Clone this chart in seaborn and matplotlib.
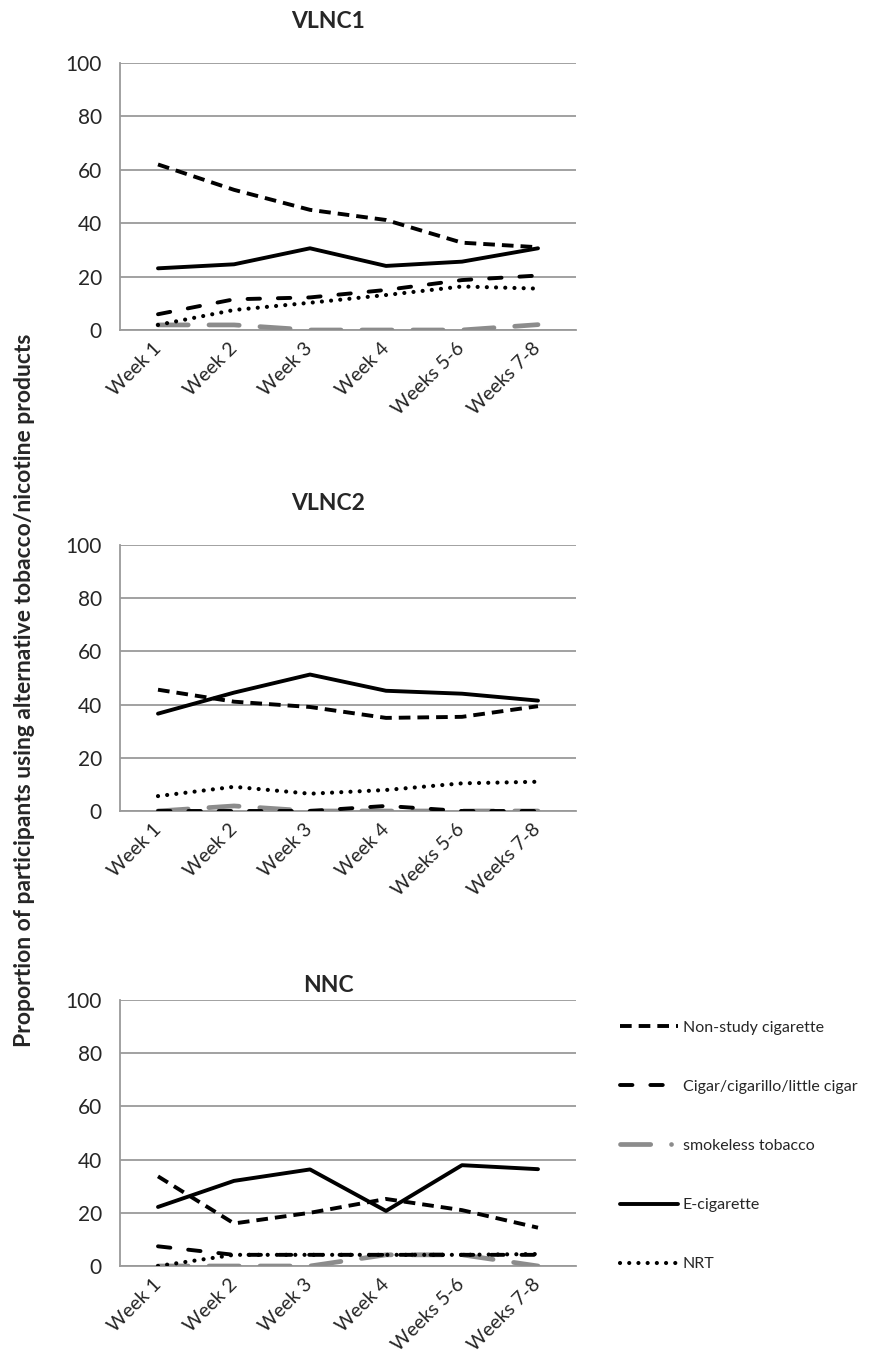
import numpy as np
import pandas as pd
import matplotlib
matplotlib.use("Agg")
import matplotlib.pyplot as plt
from matplotlib.lines import Line2D
import seaborn as sns

# Data
weeks = ["Week 1", "Week 2", "Week 3", "Week 4", "Weeks 5-6", "Weeks 7-8"]
groups = ["VLNC1", "VLNC2", "NNC"]
products = ["Non-study cigarette", "Cigar/cigarillo/little cigar",
            "smokeless tobacco", "E-cigarette", "NRT"]

vlnc1_nonstudy = [62, 52.5, 45, 41.2, 32.7, 31]
vlnc1_cigar = [5.9, 11.5, 12.2, 15, 18.7, 20.4]
vlnc1_smokeless = [1.9, 1.9, 0, 0, 0, 2]
vlnc1_ecig = [23.1, 24.6, 30.6, 24, 25.6, 30.6]
vlnc1_nrt = [1.9, 7.5, 10.2, 13.1, 16.3, 15.5]

vlnc2_nonstudy = [45.6, 41.1, 39.1, 35, 35.4, 39.4]
vlnc2_cigar = [0, 0, 0, 1.9, 0, 0]
vlnc2_smokeless = [0, 1.9, 0, 0, 0, 0]
vlnc2_ecig = [36.6, 44.5, 51.3, 45.2, 44.1, 41.5]
vlnc2_nrt = [5.6, 9.1, 6.5, 7.9, 10.4, 11]

nnc_nonstudy = [33.7, 16, 20, 25.2, 21, 14.4]
nnc_cigar = [7.4, 4.2, 4.2, 4.2, 4.2, 4.2]
nnc_smokeless = [0, 0, 0, 4.2, 4.2, 0]
nnc_ecig = [22.2, 32, 36.3, 20.7, 37.9, 36.4]
nnc_nrt = [0, 4.2, 4.2, 4.2, 4.2, 4.5]

series = {
    "VLNC1": [vlnc1_nonstudy, vlnc1_cigar, vlnc1_smokeless, vlnc1_ecig, vlnc1_nrt],
    "VLNC2": [vlnc2_nonstudy, vlnc2_cigar, vlnc2_smokeless, vlnc2_ecig, vlnc2_nrt],
    "NNC": [nnc_nonstudy, nnc_cigar, nnc_smokeless, nnc_ecig, nnc_nrt],
}

# line styles per product
styles = {
    "Non-study cigarette": dict(color="black", lw=2.8, ls=(0, (3.0, 1.8)), cap="butt"),
    "Cigar/cigarillo/little cigar": dict(color="black", lw=2.8, ls=(0, (3.2, 4.6)), cap="round"),
    "smokeless tobacco": dict(color="#8c8c8c", lw=3.4, ls=(0, (6.4, 4.4)), cap="round"),
    "E-cigarette": dict(color="black", lw=2.8, ls="-", cap="round"),
    "NRT": dict(color="black", lw=3.0, ls=(0, (0.01, 2.2)), cap="round"),
}

sns.set_style("white")
plt.rcParams["font.family"] = ["Lato", "DejaVu Sans"]

fig = plt.figure(figsize=(8.69, 13.59), dpi=100)

W, H = 869, 1359
x_left, x_right = 120, 576
panel_px = [(63, 330), (545, 811), (1000, 1266)]
title_y = [22, 503, 985]
grid_col = "#9a9a9a"

x = np.arange(len(weeks))
draw_order = ["smokeless tobacco", "NRT", "Cigar/cigarillo/little cigar",
              "Non-study cigarette", "E-cigarette"]

for g, (top, bot), ty in zip(groups, panel_px, title_y):
    ax = fig.add_axes([x_left / W, 1 - bot / H, (x_right - x_left) / W, (bot - top) / H])
    df = pd.DataFrame({"x": x})
    for p, vals in zip(products, series[g]):
        df[p] = vals
    for p in draw_order:
        st = styles[p]
        sns.lineplot(data=df, x="x", y=p, ax=ax, color=st["color"], linewidth=st["lw"],
                     linestyle=st["ls"], dash_capstyle=st["cap"],
                     solid_capstyle="round", label=p, legend=False, zorder=3)
    ax.set_xlim(-0.5, len(weeks) - 0.5)
    ax.set_ylim(0, 100)
    ax.set_yticks(np.arange(0, 101, 20))
    ax.set_yticklabels([str(v) for v in range(0, 101, 20)], fontsize=15)
    ax.yaxis.grid(True, color=grid_col, linewidth=1.3)
    ax.set_axisbelow(True)
    ax.set_xticks(np.arange(-0.5, len(weeks), 1.0))
    ax.set_xticklabels([])
    ax.set_xticks(x, minor=True)
    ax.set_xticklabels(weeks, minor=True, rotation=45, ha="right", va="center",
                       rotation_mode="anchor", fontsize=14)
    ax.tick_params(axis="x", which="minor", length=0, pad=11)
    ax.tick_params(axis="x", which="major", length=6, width=1.3, color=grid_col, direction="out")
    ax.tick_params(axis="y", length=7, width=1.3, color=grid_col, direction="out", pad=6)
    for s in ["top", "right"]:
        ax.spines[s].set_visible(False)
    for s in ["left", "bottom"]:
        ax.spines[s].set_color(grid_col)
        ax.spines[s].set_linewidth(1.3)
    ax.set_xlabel("")
    ax.set_ylabel("")
    fig.text(328 / W, 1 - ty / H, g, ha="center", va="center", fontsize=16.5, fontweight="bold")

fig.text(25 / W, 1 - 690 / H,
         "Proportion of participants using alternative tobacco/nicotine products",
         rotation=90, ha="center", va="center", fontsize=16.5, fontweight="bold")

# legend
handles = []
for p in products:
    st = styles[p]
    ls = st["ls"]
    if p == "smokeless tobacco":
        ls = (0, (6.4, 4.4, 0.01, 4.4))
    handles.append(Line2D([0], [0], color=st["color"], lw=st["lw"], linestyle=ls,
                          dash_capstyle=st["cap"]))
fig.legend(handles, products, loc="upper left", bbox_to_anchor=(606 / W, 1 - 1006 / H),
           frameon=False, fontsize=11.5, labelspacing=2.82, handlelength=3.6,
           handletextpad=0.3)

fig.savefig("out.png", dpi=100)
